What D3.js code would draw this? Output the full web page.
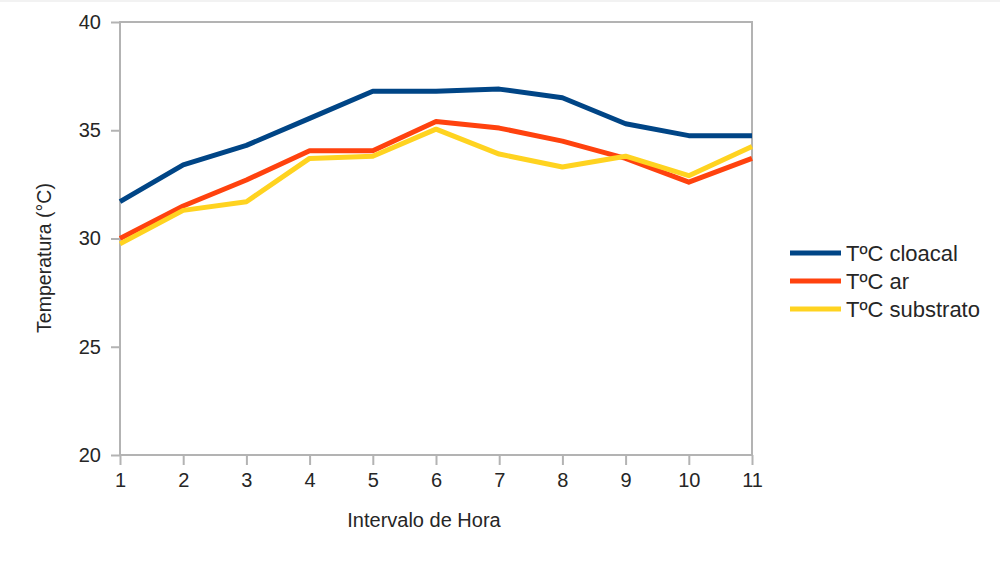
<!DOCTYPE html>
<html>
<head>
<meta charset="utf-8">
<script src="https://cdn.jsdelivr.net/npm/d3@7"></script>
<style>
  html, body { margin: 0; padding: 0; background: #fff; }
  svg { display: block; font-family: "Liberation Sans", Arial, sans-serif; }
</style>
</head>
<body>
<svg id="chart" width="1000" height="563"></svg>
<script>
const hours = [1, 2, 3, 4, 5, 6, 7, 8, 9, 10, 11];
const cloacal = [31.7, 33.4, 34.3, 35.55, 36.8, 36.8, 36.9, 36.5, 35.3, 34.75, 34.75];
const ar = [30.0, 31.5, 32.7, 34.05, 34.05, 35.4, 35.1, 34.5, 33.7, 32.6, 33.7];
const substrato = [29.75, 31.3, 31.7, 33.7, 33.8, 35.05, 33.9, 33.3, 33.8, 32.9, 34.25];
const seriesNames = ["TºC cloacal", "TºC ar", "TºC substrato"];
const seriesColors = ["#004586", "#ff420e", "#ffd320"];
const yTicks = [20, 25, 30, 35, 40];
const xTitle = "Intervalo de Hora";
const yTitle = "Temperatura (°C)";

const series = [cloacal, ar, substrato];

const svg = d3.select("#chart");
const margin = { left: 120, top: 22, right: 248, bottom: 108 };
const W = 1000, H = 563;
const x = d3.scaleLinear().domain([1, 11]).range([margin.left, W - margin.right]);
const y = d3.scaleLinear().domain([20, 40]).range([H - margin.bottom, margin.top]);

// faint top strip
svg.append("rect").attr("x", 0).attr("y", 0).attr("width", W).attr("height", 2).attr("fill", "#f2f2f2");

const grey = "#b3b3b3";
const textCol = "#262626";

// plot frame
svg.append("rect")
  .attr("x", x(1)).attr("y", y(40))
  .attr("width", x(11) - x(1)).attr("height", y(20) - y(40))
  .attr("fill", "none").attr("stroke", grey).attr("stroke-width", 2);

// y axis
const yAxis = svg.append("g")
  .attr("transform", `translate(${x(1)},0)`)
  .call(d3.axisLeft(y).tickValues(yTicks).tickSize(9).tickPadding(10).tickFormat(d3.format("d")));
yAxis.select(".domain").remove();
yAxis.selectAll("line").attr("stroke", grey).attr("stroke-width", 2);
yAxis.selectAll("text").attr("fill", textCol).style("font-size", "20px")
  .style("font-family", "'Liberation Sans', Arial, sans-serif");

// x axis
const xAxis = svg.append("g")
  .attr("transform", `translate(0,${y(20)})`)
  .call(d3.axisBottom(x).tickValues(hours).tickSize(10).tickPadding(8).tickFormat(d3.format("d")));
xAxis.select(".domain").remove();
xAxis.selectAll("line").attr("stroke", grey).attr("stroke-width", 2);
xAxis.selectAll("text").attr("fill", textCol).style("font-size", "20px")
  .style("font-family", "'Liberation Sans', Arial, sans-serif");

// lines
const line = d3.line().x((d, i) => x(hours[i])).y(d => y(d));
series.forEach((s, k) => {
  svg.append("path")
    .datum(s)
    .attr("d", line)
    .attr("fill", "none")
    .attr("stroke", seriesColors[k])
    .attr("stroke-width", 5)
    .attr("stroke-linejoin", "round");
});

// axis titles
svg.append("text")
  .attr("x", 424).attr("y", 527)
  .attr("text-anchor", "middle")
  .attr("fill", textCol).style("font-size", "20px")
  .text(xTitle);

svg.append("text")
  .attr("transform", "translate(51,258) rotate(-90)")
  .attr("text-anchor", "middle")
  .attr("fill", textCol).style("font-size", "19.5px")
  .text(yTitle);

// legend
const lg = svg.append("g");
seriesNames.forEach((n, k) => {
  const yy = 253 + k * 28;
  lg.append("line").attr("x1", 790).attr("x2", 841).attr("y1", yy).attr("y2", yy)
    .attr("stroke", seriesColors[k]).attr("stroke-width", 5);
  lg.append("text").attr("x", 846).attr("y", yy).attr("dy", "0.36em")
    .attr("fill", textCol).style("font-size", "22px").text(n);
});
</script>
</body>
</html>
